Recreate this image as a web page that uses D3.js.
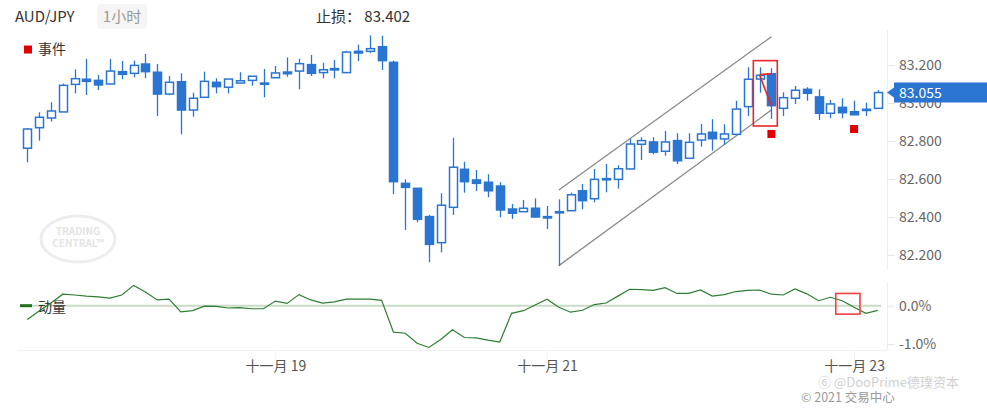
<!DOCTYPE html>
<html><head><meta charset="utf-8">
<script src="https://cdn.jsdelivr.net/npm/d3@7/dist/d3.min.js"></script>
<style>
html,body{margin:0;padding:0;background:#fff;}
svg text{font-family:"Noto Sans CJK SC","Noto Sans",sans-serif;}
</style></head>
<body><svg id="c" width="987" height="409"></svg>
<script>
// ---- data ----
const symbol = "AUD/JPY";
const period = "1小时";
const stopLoss = "止损： 83.402";
const open = [82.762,82.870,82.921,82.953,83.098,83.125,83.119,83.100,83.165,83.156,83.205,83.162,83.047,83.112,82.963,83.030,83.109,83.083,83.105,83.119,83.105,83.133,83.163,83.168,83.202,83.160,83.181,83.160,83.272,83.272,83.296,83.214,82.577,82.551,82.402,82.265,82.451,82.651,82.595,82.583,82.563,82.442,82.428,82.446,82.402,82.428,82.433,82.538,82.496,82.602,82.598,82.653,82.783,82.795,82.746,82.802,82.709,82.805,82.846,82.811,82.835,82.981,83.126,83.154,82.972,83.025,83.072,83.032,82.946,82.977,82.954,82.967,82.972];
const close = [82.863,82.925,82.958,83.093,83.128,83.114,83.095,83.168,83.151,83.198,83.165,83.047,83.109,82.963,83.025,83.114,83.086,83.126,83.117,83.141,83.102,83.158,83.154,83.207,83.156,83.175,83.174,83.268,83.263,83.286,83.223,82.586,82.556,82.388,82.256,82.462,82.662,82.586,82.577,82.538,82.437,82.420,82.446,82.400,82.395,82.423,82.517,82.486,82.598,82.596,82.654,82.784,82.802,82.741,82.795,82.696,82.793,82.837,82.812,82.837,82.968,83.125,83.146,82.986,83.028,83.067,83.051,82.946,82.995,82.949,82.938,82.962,83.055];
const high = [82.868,82.951,83.004,83.102,83.177,83.232,83.147,83.232,83.221,83.223,83.258,83.205,83.142,83.156,83.054,83.165,83.130,83.126,83.162,83.141,83.179,83.195,83.240,83.233,83.253,83.212,83.226,83.275,83.307,83.356,83.354,83.223,82.598,82.551,82.411,82.525,82.817,82.691,82.647,82.625,82.583,82.468,82.490,82.498,82.458,82.493,82.528,82.574,82.653,82.679,82.672,82.811,82.820,82.820,82.853,82.841,82.841,82.890,82.915,82.888,83.012,83.188,83.188,83.183,83.056,83.090,83.083,83.072,83.016,83.025,83.012,83.002,83.068];
const low = [82.688,82.802,82.902,82.953,83.051,83.042,83.068,83.100,83.125,83.135,83.130,82.932,83.041,82.835,82.928,83.030,83.051,83.051,83.105,83.091,83.030,83.133,83.138,83.072,83.142,83.130,83.130,83.160,83.221,83.262,83.174,82.520,82.332,82.372,82.162,82.214,82.411,82.528,82.537,82.504,82.398,82.390,82.428,82.398,82.337,82.142,82.433,82.441,82.477,82.530,82.549,82.653,82.700,82.730,82.723,82.679,82.709,82.770,82.749,82.779,82.835,82.932,83.054,82.916,82.932,82.995,83.012,82.911,82.920,82.920,82.938,82.932,82.972];
const momentum = [-0.36,-0.14,0.07,0.30,0.28,0.25,0.23,0.20,0.28,0.53,0.36,0.15,0.17,-0.16,-0.13,-0.01,-0.02,-0.06,-0.05,-0.08,-0.08,0.12,0.06,0.29,0.15,0.07,0.10,0.17,0.17,0.17,0.14,-0.69,-0.72,-0.98,-1.09,-0.88,-0.63,-0.83,-0.84,-0.90,-0.95,-0.20,-0.13,0.02,0.17,-0.04,-0.17,-0.12,0.03,0.07,0.25,0.43,0.42,0.40,0.47,0.32,0.32,0.41,0.25,0.29,0.37,0.40,0.41,0.30,0.28,0.44,0.31,0.13,0.22,0.13,-0.04,-0.20,-0.12];
const priceTicks = [82.2,82.4,82.6,82.8,83.0,83.2];
const momTicks = [0,-1];
const dateTickIndex = [21,44,70];
const dateTickLabels = ["十一月 19","十一月 21","十一月 23"];
const eventIndex = [63,70];
const eventPrice = [82.837,82.863];
const channelIndex = [45,63];
const channelUpper = [82.542,83.349];
const channelLower = [82.144,82.963];
const boxIndex = [61.47,63.5];
const boxPrice = [83.223,82.879];
const markLines = [[[62,83.150],[63,83.154]],[[62,83.148],[63,82.985]]];
const momBoxIndex = [68.45,70.5];
const momBoxValue = [0.32,-0.22];
const lastPrice = 83.055;

// ---- chart ----
const svg = d3.select("#c");
const blue = "#2a74d2";
const n = open.length;
const x = d3.scaleLinear().domain([0,n-1]).range([27.3,877.7]);
const y = d3.scaleLinear().domain([82.2,83.2]).range([255,65]);
const ym = d3.scaleLinear().domain([-1,0]).range([344,305.7]);
const axisX = 887;

// header
svg.append("text").attr("x",15).attr("y",22).attr("font-size",15).attr("fill","#333").text(symbol);
svg.append("rect").attr("x",97).attr("y",4).attr("width",50).attr("height",25).attr("rx",4).attr("fill","#f5f5f5");
svg.append("text").attr("x",122).attr("y",22).attr("text-anchor","middle").attr("font-size",15).attr("fill","#999").text(period);
svg.append("text").attr("x",316).attr("y",22).attr("font-size",15).attr("fill","#333").text(stopLoss);

// legend events
svg.append("rect").attr("x",24).attr("y",45.5).attr("width",8).attr("height",8).attr("fill","#e00000");
svg.append("text").attr("x",38).attr("y",54).attr("font-size",14).attr("fill","#333").text("事件");

// Trading Central watermark
const wm = svg.append("g").attr("opacity",0.9);
wm.append("ellipse").attr("cx",78).attr("cy",239).attr("rx",37).attr("ry",23).attr("fill","none").attr("stroke","#ececec").attr("stroke-width",3);
wm.append("text").attr("x",78).attr("y",235).attr("text-anchor","middle").attr("font-size",10).attr("font-weight","bold").attr("fill","#e2e2e2").attr("font-family","Liberation Sans").text("TRADING");
wm.append("text").attr("x",78).attr("y",247).attr("text-anchor","middle").attr("font-size",10).attr("font-weight","bold").attr("fill","#e2e2e2").attr("font-family","Liberation Sans").text("CENTRAL™");

// panel frame lines
svg.append("line").attr("x1",axisX+0.5).attr("x2",axisX+0.5).attr("y1",30).attr("y2",270).attr("stroke","#eee");
svg.append("line").attr("x1",axisX+0.5).attr("x2",axisX+0.5).attr("y1",282).attr("y2",350).attr("stroke","#eee");
svg.append("line").attr("x1",18).attr("x2",axisX).attr("y1",350.5).attr("y2",350.5).attr("stroke","#f2f2f2");

// channel
const gl = d3.line().x(d=>x(d[0])).y(d=>y(d[1]));
svg.append("path").attr("d",gl(channelIndex.map((v,i)=>[v,channelUpper[i]]))).attr("stroke","#888").attr("stroke-width",1.3).attr("fill","none");
svg.append("path").attr("d",gl(channelIndex.map((v,i)=>[v,channelLower[i]]))).attr("stroke","#888").attr("stroke-width",1.3).attr("fill","none");

// candles
const data = d3.range(n).map(i=>({i,o:open[i],h:high[i],l:low[i],c:close[i]}));
const cg = svg.append("g");
const bw = 8;
const cs = cg.selectAll("g").data(data).join("g");
cs.append("line")
  .attr("x1",d=>Math.round(x(d.i))+0.5).attr("x2",d=>Math.round(x(d.i))+0.5)
  .attr("y1",d=>y(d.h)).attr("y2",d=>y(d.l))
  .attr("stroke",blue).attr("stroke-width",1.3);
cs.append("rect")
  .attr("x",d=>Math.round(x(d.i))+0.5-bw/2)
  .attr("y",d=>y(Math.max(d.o,d.c)))
  .attr("width",bw)
  .attr("height",d=>Math.max(1.2,Math.abs(y(d.o)-y(d.c))))
  .attr("fill",d=>d.c>=d.o?"#fff":blue)
  .attr("stroke",blue).attr("stroke-width",1.5);

// red box + lines
svg.append("rect").attr("x",x(boxIndex[0])).attr("y",y(boxPrice[0]))
  .attr("width",x(boxIndex[1])-x(boxIndex[0])).attr("height",y(boxPrice[1])-y(boxPrice[0]))
  .attr("fill","none").attr("stroke","#e8262b").attr("stroke-width",1.6);
markLines.forEach(l=>svg.append("path").attr("d",gl(l)).attr("stroke","#e8262b").attr("stroke-width",1.6).attr("fill","none"));

// events
svg.selectAll(".ev").data(eventIndex).join("rect").attr("class","ev")
  .attr("x",(d)=>x(d)-4).attr("y",(d,i)=>y(eventPrice[i])-4).attr("width",8).attr("height",8).attr("fill","#e00000");

// price axis
const ya = svg.append("g").attr("transform",`translate(${axisX},0)`)
  .call(d3.axisRight(y).tickValues(priceTicks).tickFormat(d3.format(".3f")).tickSize(8).tickPadding(4));
ya.select(".domain").remove();
ya.selectAll(".tick line").attr("stroke","#e6e6e6");
ya.selectAll(".tick text").attr("font-size",14).attr("fill","#666").attr("font-family","Noto Sans CJK SC");

// last price label
const ly = y(lastPrice);
svg.append("path").attr("d",`M${axisX},${ly} L${axisX+7},${ly-5} L${axisX+7},${ly-10} L987,${ly-10} L987,${ly+10} L${axisX+7},${ly+10} L${axisX+7},${ly+5} Z`).attr("fill","#2a74d2");
svg.append("text").attr("x",899).attr("y",ly+5).attr("font-size",14).attr("fill","#fff").text(d3.format(".3f")(lastPrice));

// momentum
svg.append("line").attr("x1",20).attr("x2",881).attr("y1",ym(0)).attr("y2",ym(0)).attr("stroke","#c8dcc8").attr("stroke-width",2);
svg.append("line").attr("x1",20).attr("x2",32).attr("y1",ym(0)).attr("y2",ym(0)).attr("stroke","#1f6f1f").attr("stroke-width",3);
svg.append("text").attr("x",38).attr("y",312).attr("font-size",14).attr("fill","#333").text("动量");
const ml = d3.line().x((d,i)=>x(i)).y(d=>ym(d));
svg.append("path").attr("d",ml(momentum)).attr("fill","none").attr("stroke","#2e7d32").attr("stroke-width",1.2);
svg.append("rect").attr("x",x(momBoxIndex[0])).attr("y",ym(momBoxValue[0]))
  .attr("width",x(momBoxIndex[1])-x(momBoxIndex[0])).attr("height",ym(momBoxValue[1])-ym(momBoxValue[0]))
  .attr("fill","none").attr("stroke","#f04040").attr("stroke-width",1.6);
const ma = svg.append("g").attr("transform",`translate(${axisX},0)`)
  .call(d3.axisRight(ym).tickValues(momTicks).tickFormat(d=>d.toFixed(1)+"%").tickSize(8).tickPadding(4));
ma.select(".domain").remove();
ma.selectAll(".tick line").attr("stroke","#e6e6e6");
ma.selectAll(".tick text").attr("font-size",14).attr("fill","#666").attr("font-family","Noto Sans CJK SC");

// date axis
const xa = svg.append("g").attr("transform","translate(0,350)")
  .call(d3.axisBottom(x).tickValues(dateTickIndex).tickFormat((d,i)=>dateTickLabels[i]).tickSize(9).tickPadding(2));
xa.select(".domain").remove();
xa.selectAll(".tick line").attr("stroke","#f2f2f2");
xa.selectAll(".tick text").attr("font-size",14).attr("fill","#555").attr("font-family","Noto Sans CJK SC");

// watermarks
svg.append("text").attr("x",818).attr("y",387).attr("font-size",13).attr("fill","#d0d0d0").text("⑥ @DooPrime德璞资本");
svg.append("text").attr("x",801).attr("y",402).attr("font-size",12.5).attr("fill","#999").text("© 2021 交易中心");
</script></body></html>
